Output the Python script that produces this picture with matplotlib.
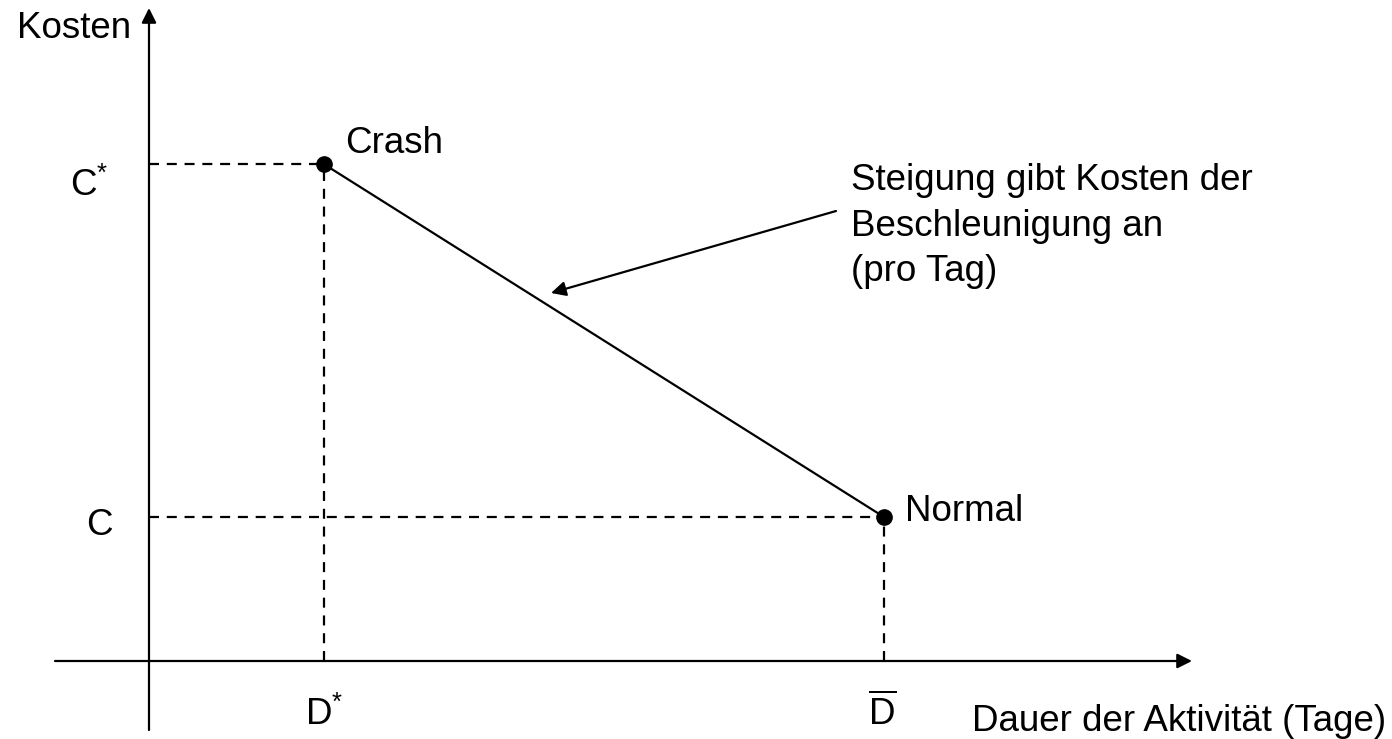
import matplotlib
matplotlib.use("Agg")
import matplotlib.pyplot as plt

plt.rcParams['font.family'] = ['Liberation Sans', 'DejaVu Sans']
plt.rcParams['mathtext.fontset'] = 'custom'
plt.rcParams['mathtext.rm'] = 'Liberation Sans'
plt.rcParams['mathtext.it'] = 'Liberation Sans'

# Conceptual data (Dauer in Tagen, Kosten)
point_labels = ["Crash", "Normal"]
durations = [2.0, 8.4]        # D*, D-bar
costs = [6.9, 2.0]            # C*, C
x_tick_labels = [r"D$^{*}$", r"$\overline{\mathrm{D}}$"]
y_tick_labels = [r"C$^{*}$", "C"]
x_label = "Dauer der Aktivität (Tage)"
y_label = "Kosten"
annotation_lines = ["Steigung gibt Kosten der", "Beschleunigung an", "(pro Tag)"]

fig = plt.figure(figsize=(13.92, 7.39), dpi=100)
ax = fig.add_axes([0, 0, 1, 1])
ax.set_xlim(-149 / 87.5, (1392 - 149) / 87.5)
ax.set_ylim(-(739 - 661) / 72, 661 / 72)
ax.axis('off')


def px(x, y):
    """convert a layout position in pixels to axes data units"""
    return (x - 149) / 87.5, (661 - y) / 72


fs = 26.5
lw = 1.6
arrow_kw = dict(arrowstyle='-|>', lw=lw, color='black', mutation_scale=22,
                shrinkA=0, shrinkB=0)

# axes with arrows
ax.annotate('', xy=px(1192, 661), xytext=px(55, 661), arrowprops=arrow_kw)
ax.annotate('', xy=px(149, 8), xytext=px(149, 730), arrowprops=arrow_kw)

# dashed guide lines
for d, c in zip(durations, costs):
    ax.plot([0, d], [c, c], ls=(0, (4.5, 3.5)), color='black', lw=lw, zorder=2)
    ax.plot([d, d], [0, c], ls=(0, (4.5, 3.5)), color='black', lw=lw, zorder=2)

# cost line
ax.plot(durations, costs, color='black', lw=lw, zorder=3)
ax.plot(durations, costs, 'o', color='black', markersize=11, zorder=4)

# point labels
ax.text(*px(345, 153), point_labels[0], fontsize=fs, ha='left', va='baseline')
ax.text(*px(905, 521), point_labels[1], fontsize=fs, ha='left', va='baseline')

# tick labels
ax.text(*px(70, 196), y_tick_labels[0], fontsize=fs, ha='left', va='baseline')
ax.text(*px(86, 535), y_tick_labels[1], fontsize=fs, ha='left', va='baseline')
ax.text(*px(305, 725), x_tick_labels[0], fontsize=fs, ha='left', va='baseline')
ax.text(*px(868, 725), x_tick_labels[1], fontsize=fs, ha='left', va='baseline')

# axis labels
ax.text(*px(131, 38), y_label, fontsize=fs, ha='right', va='baseline')
ax.text(*px(1386, 731), x_label, fontsize=fs, ha='right', va='baseline')

# annotation
ax.annotate('', xy=px(551, 293), xytext=px(836, 211), arrowprops=arrow_kw)
for i, line in enumerate(annotation_lines):
    ax.text(*px(851, 190 + 45.5 * i), line, fontsize=fs, ha='left', va='baseline')

fig.savefig('out.png', dpi=100)
